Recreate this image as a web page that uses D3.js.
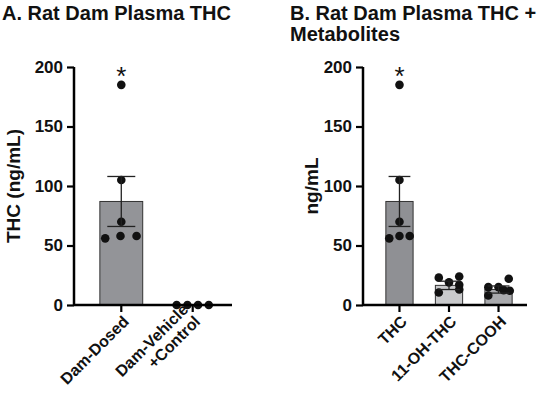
<!DOCTYPE html>
<html>
<head>
<meta charset="utf-8">
<script src="https://cdn.jsdelivr.net/npm/d3@7"></script>
<style>
body { margin: 0; background: #fff; }
text { font-family: "Liberation Sans", Arial, sans-serif; font-weight: bold; fill: #111; }
</style>
</head>
<body>
<svg id="chart" width="560" height="400"></svg>
<script>
var yTicks = [0, 50, 100, 150, 200];

var catsA = ["Dam-Dosed", "Dam-Vehicle\n+Control"],
    meanA = [87, 0],
    semA = [21, 0],
    ptsA = [[185, 105, 70, 58, 58, 56], [0, 0, 0, 0]],
    colorA = ["#939498", "#939498"];

var catsB = ["THC", "11-OH-THC", "THC-COOH"],
    meanB = [87, 16.5, 13],
    semB = [21, 3.5, 3],
    ptsB = [[185, 105, 70, 58, 58, 56], [23, 24, 19, 17, 13, 10.5], [22, 15, 15, 12.5, 12, 8]],
    colorB = ["#8f9094", "#c9cacc", "#a9aaad"];

var svg = d3.select("#chart");

function panel(o) {
  var y = d3.scaleLinear().domain([0, 200]).range([305, 67]);
  var x = d3.scaleBand().domain(o.cats).range([o.x0 + 8, o.x1]).paddingInner(o.pin).paddingOuter(o.pout);
  var g = svg.append("g");

  g.selectAll("rect.bar").data(o.cats).enter().append("rect")
    .attr("x", function(d) { return x(d); })
    .attr("width", x.bandwidth())
    .attr("y", function(d, i) { return y(o.mean[i]); })
    .attr("height", function(d, i) { return y(0) - y(o.mean[i]); })
    .attr("fill", function(d, i) { return o.color[i]; })
    .attr("stroke", function(d, i) { return o.mean[i] > 0 ? "#333" : "none"; })
    .attr("stroke-width", 1);

  o.cats.forEach(function(c, i) {
    var cx = x(c) + x.bandwidth() / 2, pts = o.pts[i];
    var spread = Math.min(x.bandwidth() * 0.75, 40);
    pts.forEach(function(v, j) {
      var dx = o.jit[i][j] * spread / 2;
      g.append("circle").attr("cx", cx + dx).attr("cy", y(v)).attr("r", 4.3).attr("fill", "#111");
    });
    if (o.sem[i] > 0) {
      var lo = o.mean[i] - o.sem[i], hi = o.mean[i] + o.sem[i], w = Math.min(x.bandwidth() * 0.4, 14);
      g.append("line").attr("x1", cx).attr("x2", cx).attr("y1", y(lo)).attr("y2", y(hi)).attr("stroke", "#222").attr("stroke-width", 1.3);
      [lo, hi].forEach(function(v) {
        g.append("line").attr("x1", cx - w).attr("x2", cx + w).attr("y1", y(v)).attr("y2", y(v)).attr("stroke", "#222").attr("stroke-width", 1.3);
      });
    }
    if (i === 0) {
      g.append("text").attr("x", cx).attr("y", y(200) + 18).attr("text-anchor", "middle")
        .style("font-weight", "normal").style("font-size", "26px").text("*");
    }
  });

  var ya = g.append("g").attr("transform", "translate(" + o.x0 + ",0)")
    .call(d3.axisLeft(y).tickValues(yTicks).tickSize(7).tickPadding(4));
  ya.select(".domain").attr("stroke-width", 2.5).attr("d", "M0," + y(200) + "V" + y(0));
  ya.selectAll(".tick line").attr("stroke-width", 2.2);
  ya.selectAll(".tick text").style("font-size", "17px");

  var xa = g.append("g").attr("transform", "translate(0," + y(0) + ")")
    .call(d3.axisBottom(x).tickSize(7).tickFormat(""));
  xa.select(".domain").attr("stroke-width", 2.5).attr("d", "M" + o.x0 + ",0H" + o.x1);
  xa.selectAll(".tick line").attr("stroke-width", 2.2);

  o.cats.forEach(function(c) {
    var cx = x(c) + x.bandwidth() / 2;
    var lines = c.split("\n");
    var t = g.append("text").attr("transform", "translate(" + (cx + 5) + "," + (y(0) + 14) + ") rotate(-45)")
      .attr("text-anchor", "end").style("font-size", "16px");
    lines.forEach(function(l, k) {
      t.append("tspan").attr("x", 0).attr("dy", k === 0 ? 5 - (lines.length - 1) * 17 : 17).text(l);
    });
  });

  g.append("text").attr("transform", "translate(" + o.ylx + "," + y(100) + ") rotate(-90)")
    .attr("text-anchor", "middle").style("font-size", "19px").text(o.ylab);

  o.title.forEach(function(t, k) {
    g.append("text").attr("x", o.tx).attr("y", 20 + k * 21).style("font-size", "20px").text(t);
  });
}

panel({cats: catsA, mean: meanA, sem: semA, pts: ptsA, color: colorA, x0: 74, x1: 232, pin: 0.4, pout: 0.25,
  jit: [[0, 0, 0, -0.05, 0.95, -1], [-1, -0.33, 0.33, 1]],
  ylx: 20, ylab: "THC (ng/mL)", title: ["A. Rat Dam Plasma THC"], tx: 2});
panel({cats: catsB, mean: meanB, sem: semB, pts: ptsB, color: colorB, x0: 363, x1: 527, pin: 0.45, pout: 0.3,
  jit: [[0, 0, 0, 0, 1, -1], [-1, 1, 0, 1, 1, -1], [1, -1, 0, 0.5, 1.1, -1]],
  ylx: 318, ylab: "ng/mL", title: ["B. Rat Dam Plasma THC +", "Metabolites"], tx: 290});
</script>
</body>
</html>
